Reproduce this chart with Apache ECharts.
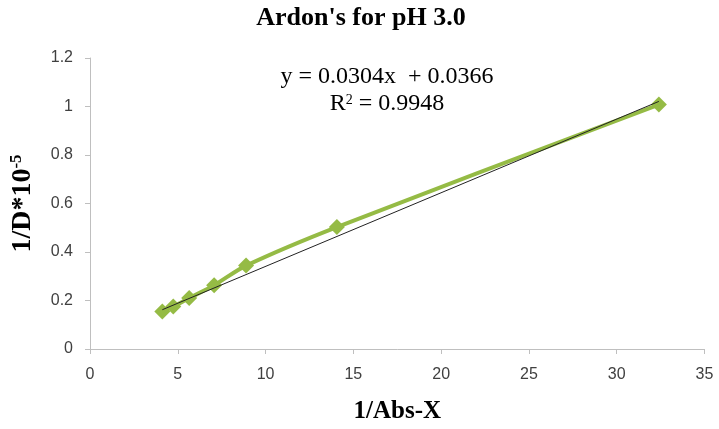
<!DOCTYPE html>
<html>
<head>
<meta charset="utf-8">
<script src="https://cdn.jsdelivr.net/npm/echarts@6/dist/echarts.min.js"></script>
<style>html,body{margin:0;padding:0;background:#fff}#c{width:719px;height:429px}</style>
</head>
<body>
<div id="c"></div>
<script>
var xValues = [4.12, 4.74, 5.65, 7.07, 8.89, 14.06, 32.4];
var yValues = [0.155, 0.175, 0.21, 0.263, 0.344, 0.503, 1.008];
var trendX = [4.12, 32.4];
var trendY = [0.162, 1.021];
var chartTitle = "Ardon's for pH 3.0";
var equationText = "y = 0.0304x  + 0.0366";
var r2Value = "0.9948";
var xName = "1/Abs-X";

var serif = "'Liberation Serif', 'Times New Roman', serif";
var sans = "'Liberation Sans', Arial, sans-serif";

var chart = echarts.init(document.getElementById('c'));
chart.setOption({
  animation: false,
  backgroundColor: '#fff',
  title: [
    {
      text: chartTitle,
      left: 356, top: 0, textAlign: 'center',
      textStyle: { fontFamily: serif, fontWeight: 'bold', fontSize: 26, color: '#000' }
    },
    {
      text: '{e|' + equationText + '}\n{r|R}{s|2}{r| = ' + r2Value + '}',
      left: 382, top: 58, textAlign: 'center',
      textStyle: {
        fontWeight: 'normal',
        rich: {
          e: { fontFamily: serif, fontWeight: 'normal', fontSize: 24, color: '#000', lineHeight: 27 },
          r: { fontFamily: serif, fontWeight: 'normal', fontSize: 24, color: '#000', lineHeight: 27 },
          s: { fontFamily: serif, fontWeight: 'normal', fontSize: 14, color: '#000', lineHeight: 27, verticalAlign: 'top', padding: [3, 0, 0, 0] }
        }
      }
    }
  ],
  grid: { left: 87.5, right: 14.5, top: 58, bottom: 76.5, containLabel: false },
  xAxis: {
    type: 'value', min: 0, max: 35, interval: 5,
    name: xName, nameLocation: 'middle', nameGap: 50,
    nameTextStyle: { fontFamily: serif, fontWeight: 'bold', fontSize: 25, color: '#000' },
    axisLine: { show: true, onZero: false, lineStyle: { color: '#bfbfbf', width: 1 } },
    axisTick: { show: true, length: 5, lineStyle: { color: '#bfbfbf' } },
    axisLabel: { fontFamily: sans, fontSize: 16, color: '#404040', margin: 18 },
    splitLine: { show: false }
  },
  yAxis: {
    type: 'value', min: 0, max: 1.2, interval: 0.2,
    name: '{a|1/D*10}{b|-5}', nameLocation: 'middle', nameGap: 52, nameRotate: 90,
    nameTextStyle: {
      rich: {
        a: { fontFamily: serif, fontWeight: 'bold', fontSize: 28, color: '#000', lineHeight: 30 },
        b: { fontFamily: serif, fontWeight: 'bold', fontSize: 17, color: '#000', lineHeight: 30, verticalAlign: 'top' }
      }
    },
    axisLine: { show: true, lineStyle: { color: '#bfbfbf', width: 1 } },
    axisTick: { show: true, length: 5, lineStyle: { color: '#bfbfbf' } },
    axisLabel: { fontFamily: sans, fontSize: 16, color: '#404040', margin: 17 },
    splitLine: { show: false }
  },
  series: [
    {
      type: 'line',
      data: xValues.map(function (x, i) { return [x, yValues[i]]; }),
      smooth: 0.3,
      symbol: 'diamond', symbolSize: 16,
      lineStyle: { color: '#95bb45', width: 4 },
      itemStyle: { color: '#95bb45' },
      z: 2
    },
    {
      type: 'line',
      data: trendX.map(function (x, i) { return [x, trendY[i]]; }),
      symbol: 'none',
      lineStyle: { color: '#222', width: 1 },
      z: 3
    }
  ]
});
</script>
</body>
</html>
